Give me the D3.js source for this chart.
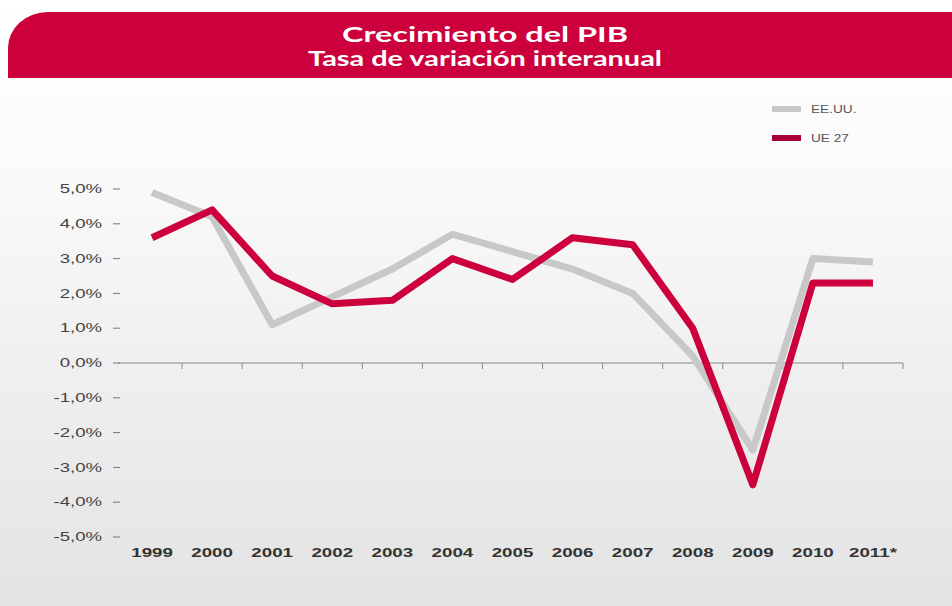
<!DOCTYPE html>
<html>
<head>
<meta charset="utf-8">
<script src="https://cdn.jsdelivr.net/npm/d3@7"></script>
<style>
  html, body { margin: 0; padding: 0; background: #fff; }
  svg { display: block; }
</style>
</head>
<body>
<div id="chart"></div>
<script>
var years = ["1999", "2000", "2001", "2002", "2003", "2004", "2005", "2006", "2007", "2008", "2009", "2010", "2011*"];
var eeuu = [4.9, 4.2, 1.1, 1.9, 2.7, 3.7, 3.2, 2.7, 2.0, 0.2, -2.5, 3.0, 2.9];
var ue27 = [3.6, 4.4, 2.5, 1.7, 1.8, 3.0, 2.4, 3.6, 3.4, 1.0, -3.5, 2.3, 2.3];
var yTicks = [5, 4, 3, 2, 1, 0, -1, -2, -3, -4, -5];
var seriesNames = ["EE.UU.", "UE 27"];

var W = 952, H = 606;
var red = "#cc003d", grey = "#c8c8c8";
var axisFont = "'Liberation Sans', Arial, sans-serif";

var svg = d3.select("#chart").append("svg")
    .attr("width", W)
    .attr("height", H);

var defs = svg.append("defs");
var grad = defs.append("linearGradient").attr("id", "bg")
    .attr("x1", 0).attr("y1", 0).attr("x2", 0).attr("y2", 1);
grad.append("stop").attr("offset", "0%").attr("stop-color", "#ffffff");
grad.append("stop").attr("offset", "25%").attr("stop-color", "#fbfbfb");
grad.append("stop").attr("offset", "100%").attr("stop-color", "#e3e3e3");

svg.append("rect").attr("width", W).attr("height", H).attr("fill", "url(#bg)");

// header band, big rounded top-left corner
var hx = 8, hy = 12, hb = 78, rx = 40, ry = 36;
svg.append("path")
    .attr("d", "M" + hx + "," + hb + " L" + hx + "," + (hy + ry) +
        " A" + rx + "," + ry + " 0 0 1 " + (hx + rx) + "," + hy +
        " L" + W + "," + hy + " L" + W + "," + hb + " Z")
    .attr("fill", red);

// title lines (source type is wide, so stretch to the measured width)
var titles = [
    { text: "Crecimiento del PIB", y: 42, w: 286 },
    { text: "Tasa de variación interanual", y: 66, w: 354 }
];
svg.selectAll(".title")
    .data(titles)
    .enter().append("text")
    .attr("class", "title")
    .attr("x", 485)
    .attr("y", function (d) { return d.y; })
    .attr("text-anchor", "middle")
    .attr("textLength", function (d) { return d.w; })
    .attr("lengthAdjust", "spacingAndGlyphs")
    .style("font-family", "Lato, 'Open Sans', sans-serif")
    .style("font-size", "21px")
    .style("font-weight", "bold")
    .attr("fill", "#fff")
    .text(function (d) { return d.text; });

// scales
var x = d3.scaleBand().domain(years).range([122, 903]);
var y = d3.scaleLinear().domain([-5, 5]).range([537, 189]);

var g = svg.append("g");

// y axis: labels with little dash ticks
var yAxis = g.append("g").selectAll(".ytick")
    .data(yTicks)
    .enter().append("g")
    .attr("class", "ytick")
    .attr("transform", function (d) { return "translate(0," + y(d) + ")"; });

yAxis.append("line")
    .attr("x1", 113).attr("x2", 120)
    .attr("stroke", "#777").attr("stroke-width", 1);

yAxis.append("text")
    .attr("transform", "translate(102,0) scale(1.55,1)")
    .attr("dy", "0.35em")
    .attr("text-anchor", "end")
    .style("font-family", axisFont)
    .style("font-size", "12px")
    .attr("fill", "#444")
    .text(function (d) { return d.toFixed(1).replace(".", ",") + "%"; });

// zero line with ticks at category boundaries
g.append("line")
    .attr("x1", 118).attr("x2", 903)
    .attr("y1", y(0)).attr("y2", y(0))
    .attr("stroke", "#888").attr("stroke-width", 1.2);

g.selectAll(".xtick")
    .data(years)
    .enter().append("line")
    .attr("class", "xtick")
    .attr("x1", function (d) { return x(d) + x.bandwidth(); })
    .attr("x2", function (d) { return x(d) + x.bandwidth(); })
    .attr("y1", y(0)).attr("y2", y(0) + 6)
    .attr("stroke", "#888").attr("stroke-width", 1);

// x labels
g.selectAll(".xlabel")
    .data(years)
    .enter().append("text")
    .attr("class", "xlabel")
    .attr("transform", function (d) {
        return "translate(" + (x(d) + x.bandwidth() / 2) + ",557) scale(1.5,1)";
    })
    .attr("text-anchor", "middle")
    .style("font-family", axisFont)
    .style("font-size", "12.5px")
    .style("font-weight", "bold")
    .attr("fill", "#333")
    .text(function (d) { return d; });

// lines
var line = d3.line()
    .x(function (d, i) { return x(years[i]) + x.bandwidth() / 2; })
    .y(function (d) { return y(d); });

g.append("path")
    .datum(eeuu)
    .attr("d", line)
    .attr("fill", "none")
    .attr("stroke", grey)
    .attr("stroke-width", 7)
    .attr("stroke-linejoin", "round");

g.append("path")
    .datum(ue27)
    .attr("d", line)
    .attr("fill", "none")
    .attr("stroke", red)
    .attr("stroke-width", 7)
    .attr("stroke-linejoin", "round");

// legend
var legend = svg.append("g").selectAll(".legend")
    .data(seriesNames)
    .enter().append("g")
    .attr("class", "legend")
    .attr("transform", function (d, i) { return "translate(772," + (109 + i * 29) + ")"; });

legend.append("line")
    .attr("x1", 0).attr("x2", 29)
    .attr("stroke", function (d, i) { return i === 0 ? grey : "#a8003a"; })
    .attr("stroke-width", 6);

legend.append("text")
    .attr("transform", "translate(39,0) scale(1.3,1)")
    .attr("dy", "0.35em")
    .style("font-family", axisFont)
    .style("font-size", "10.5px")
    .attr("fill", "#555")
    .text(function (d) { return d; });
</script>
</body>
</html>
